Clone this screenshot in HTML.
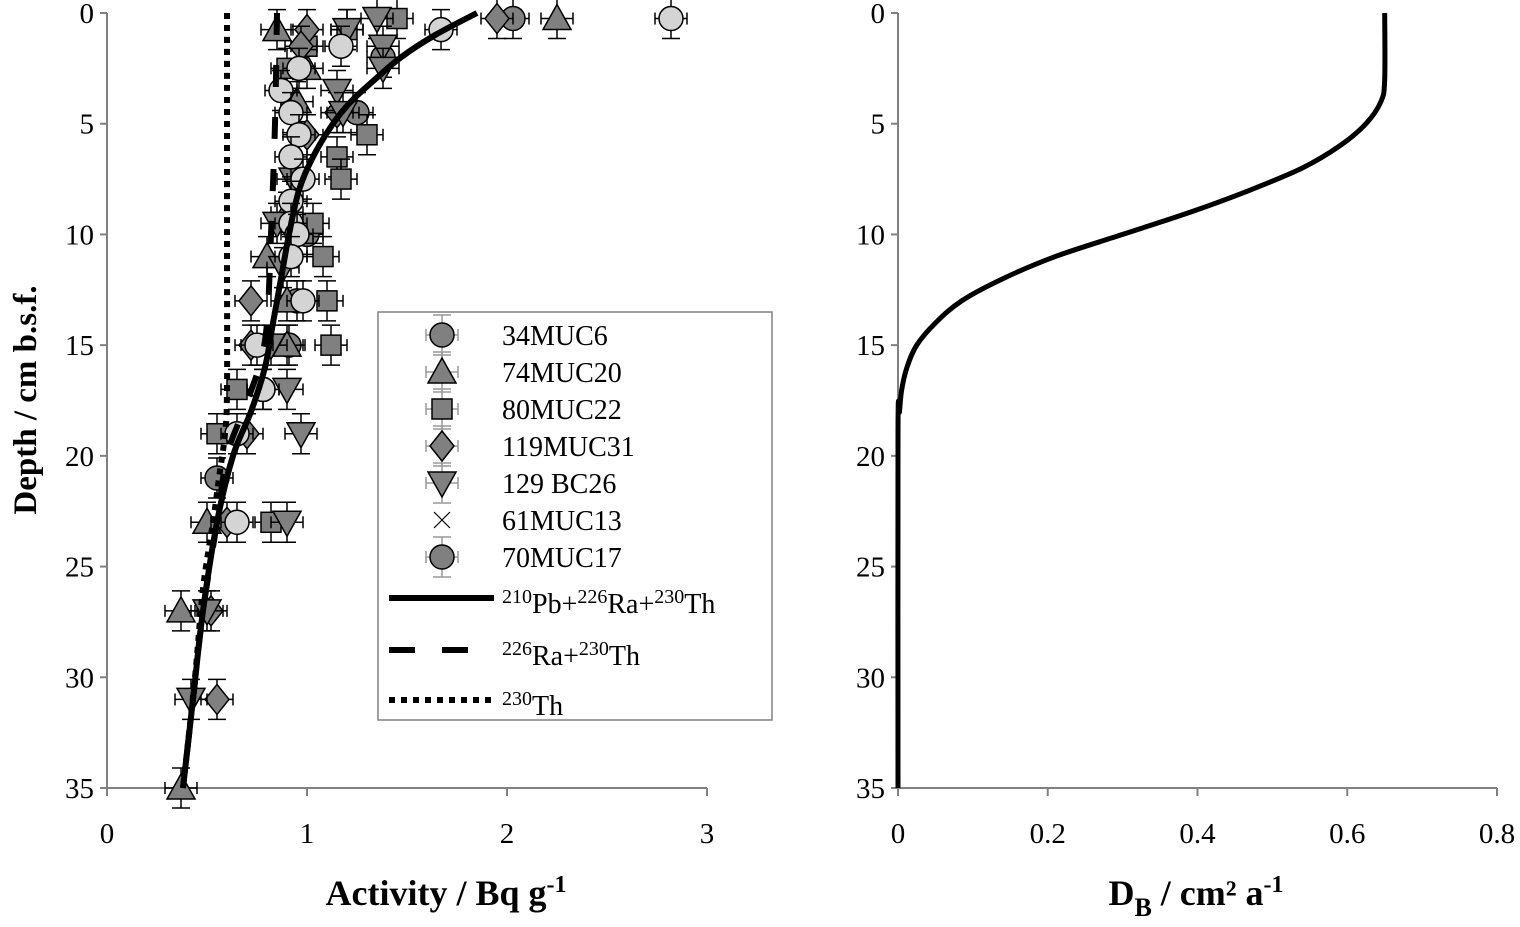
<!DOCTYPE html>
<html><head><meta charset="utf-8"><style>
body{margin:0;background:#fff;}
svg{display:block;font-family:"Liberation Serif",serif;}
</style></head><body>
<svg id="c" width="1520" height="927" viewBox="0 0 1520 927" xmlns="http://www.w3.org/2000/svg"></svg>
<script>
const NS="http://www.w3.org/2000/svg";
const svg=document.getElementById('c');
// ---- data ----
const depthTicks=[0,5,10,15,20,25,30,35];
const actTicks=[0,1,2,3];
const dbTicks=["0","0.2","0.4","0.6","0.8"];
const s34MUC6=[[2.03,0.25],[1.38,2],[1.25,4.5],[0.95,13],[0.91,15],[0.55,21],[0.78,17],[1.0,10]];
const s74MUC20=[[2.25,0.25],[0.85,0.75],[1.0,2.5],[0.95,4],[0.9,9],[0.8,11],[0.9,13],[0.5,23],[0.37,27],[0.37,35],[0.9,15]];
const s80MUC22=[[1.45,0.25],[1.2,0.75],[1.0,1.5],[0.9,2.5],[1.3,5.5],[1.15,6.5],[1.17,7.5],[1.03,9.5],[1.08,11],[1.1,13],[1.12,15],[0.65,17],[0.55,19],[0.82,23]];
const s119MUC31=[[1.95,0.25],[1.0,0.75],[0.97,1.5],[1.15,4.5],[1.0,5.5],[0.72,13],[0.72,15],[0.7,19],[0.6,23],[0.55,31],[0.52,27]];
const s129BC26=[[1.35,0.25],[1.2,0.75],[1.38,1.5],[1.38,2.5],[1.15,3.5],[1.18,4.5],[0.93,7.5],[0.85,9.5],[0.88,11.5],[0.82,15],[0.9,17],[0.97,19],[0.9,23],[0.5,27],[0.42,31]];
const s70MUC17=[[2.82,0.25],[1.67,0.75],[1.17,1.5],[0.96,2.5],[0.87,3.5],[0.92,4.5],[0.96,5.5],[0.92,6.5],[0.98,7.5],[0.92,8.5],[0.92,9.5],[0.95,10],[0.92,11],[0.98,13],[0.75,15],[0.78,17],[0.65,19],[0.65,23]];
const solidDepth=[0,1,2,3,4,5,6.5,8,10,12,14,16,18,20,23,27,31,35];
const solidAct=[1.85,1.64,1.47,1.34,1.22,1.13,1.03,0.96,0.91,0.87,0.83,0.79,0.72,0.63,0.55,0.48,0.43,0.38];
const dashDepth=[0,5,10,14,16,18,20,23,27,31,35];
const dashAct=[0.85,0.84,0.82,0.8,0.76,0.68,0.6,0.55,0.48,0.43,0.38];
const dotDepth=[0,10,17,19,21,23,26,30,35];
const dotAct=[0.6,0.6,0.6,0.59,0.56,0.53,0.48,0.44,0.38];
const dbDepth=[0,3,4,5,6,7,8,9,10,11,12,13,14,15,16,17,18,19,35];
const dbVal=[0.65,0.65,0.645,0.625,0.59,0.54,0.47,0.39,0.3,0.21,0.14,0.085,0.05,0.025,0.012,0.005,0.002,0,0];
// ---- scales ----
const yS=d=>13+d*(775/35);
const xA=v=>107+v*200;
const xD=v=>898+v*(599/0.8);
function el(t,a,p){const e=document.createElementNS(NS,t);for(const k in a)e.setAttribute(k,a[k]);(p||svg).appendChild(e);return e;}
function txt(x,y,s,a,p){const e=el('text',Object.assign({x:x,y:y},a),p);e.textContent=s;return e;}
function axes(x0,x1,ticks,xf,name){
  const g=el('g',{});
  el('line',{x1:x0,y1:13,x2:x0,y2:788,stroke:'#808080','stroke-width':2},g);
  el('line',{x1:x0,y1:788,x2:x1,y2:788,stroke:'#808080','stroke-width':2},g);
  depthTicks.forEach(d=>{el('line',{x1:x0-7,y1:yS(d),x2:x0,y2:yS(d),stroke:'#808080','stroke-width':2},g);
    txt(x0-13,yS(d)+10,d,{'text-anchor':'end','font-size':29},g);});
  ticks.forEach(t=>{const x=xf(+t);el('line',{x1:x,y1:788,x2:x,y2:796,stroke:'#808080','stroke-width':2},g);
    txt(x,843,t,{'text-anchor':'middle','font-size':29},g);});
}
axes(107,707,actTicks,xA,'left-axes');
axes(898,1497,dbTicks,xD,'right-axes');
// titles
const yt=txt(0,0,'Depth / cm b.s.f.',{'font-size':33,'font-weight':'bold','text-anchor':'middle',transform:'translate(36,400) rotate(-90)'});

const xt=el('text',{x:446,y:905,'font-size':36,'font-weight':'bold','text-anchor':'middle'});
xt.innerHTML='Activity / Bq g<tspan dy="-13" font-size="24">-1</tspan>';

const xt2=el('text',{x:1196,y:905,'font-size':36,'font-weight':'bold','text-anchor':'middle'});
xt2.innerHTML='D<tspan dy="11" font-size="26">B</tspan><tspan dy="-11"> / cm² a</tspan><tspan dy="-13" font-size="24">-1</tspan>';

// markers
function marker(kind,cx,cy,fill,p){
  const r=12,a={fill:fill,stroke:'#000','stroke-width':1.5};
  if(kind==='circle')return el('circle',Object.assign({cx:cx,cy:cy,r:r},a),p);
  if(kind==='square')return el('rect',Object.assign({x:cx-10,y:cy-10,width:20,height:20},a),p);
  if(kind==='tri')return el('polygon',Object.assign({points:`${cx},${cy-14} ${cx-14},${cy+11} ${cx+14},${cy+11}`},a),p);
  if(kind==='tri-down')return el('polygon',Object.assign({points:`${cx},${cy+14} ${cx-14},${cy-11} ${cx+14},${cy-11}`},a),p);
  if(kind==='diamond')return el('polygon',Object.assign({points:`${cx},${cy-15} ${cx+12},${cy} ${cx},${cy+15} ${cx-12},${cy}`},a),p);
}
function errbar(cx,cy,p,col){
  const c=col||'#000';
  el('line',{x1:cx-16,y1:cy,x2:cx+16,y2:cy,stroke:c,'stroke-width':1.5},p);
  el('line',{x1:cx-16,y1:cy-6,x2:cx-16,y2:cy+6,stroke:c,'stroke-width':1.5},p);
  el('line',{x1:cx+16,y1:cy-6,x2:cx+16,y2:cy+6,stroke:c,'stroke-width':1.5},p);
  el('line',{x1:cx,y1:cy-20,x2:cx,y2:cy+20,stroke:c,'stroke-width':1.5},p);
  el('line',{x1:cx-9,y1:cy-20,x2:cx+9,y2:cy-20,stroke:c,'stroke-width':1.5},p);
  el('line',{x1:cx-9,y1:cy+20,x2:cx+9,y2:cy+20,stroke:c,'stroke-width':1.5},p);
}
function series(data,kind,fill,name){
  const g=el('g',{});
  data.forEach(([v,d])=>{const cx=xA(v),cy=yS(d);errbar(cx,cy,g);const m=marker(kind,cx,cy,fill,g);
    });
}
series(s34MUC6,'circle','#808080','series-34muc6');
series(s74MUC20,'tri','#808080','series-74muc20');
series(s80MUC22,'square','#808080','series-80muc22');
series(s119MUC31,'diamond','#808080','series-119muc31');
series(s129BC26,'tri-down','#808080','series-129bc26');
series(s70MUC17,'circle','#d4d4d4','series-70muc17');
function smoothPath(P){
  let d='M'+P[0][0]+','+P[0][1];
  for(let i=0;i<P.length-1;i++){
    const p0=P[i-1]||P[i],p1=P[i],p2=P[i+1],p3=P[i+2]||p2;
    const c1=[p1[0]+(p2[0]-p0[0])/6,p1[1]+(p2[1]-p0[1])/6];
    const c2=[p2[0]-(p3[0]-p1[0])/6,p2[1]-(p3[1]-p1[1])/6];
    d+=`C${c1[0]},${c1[1]} ${c2[0]},${c2[1]} ${p2[0]},${p2[1]}`;
  }
  return d;
}
function line(ds,vs,xf,attrs,name){
  const P=ds.map((d,i)=>[xf(vs[i]),yS(d)]);
  const l=el('path',Object.assign({d:smoothPath(P),fill:'none',stroke:'#000'},attrs));
  
}
line(dotDepth,dotAct,xA,{'stroke-width':6,'stroke-dasharray':'6 6'},'line-230th');
line(dashDepth,dashAct,xA,{'stroke-width':6,'stroke-dasharray':'22 30'},'line-226ra-230th');
line(solidDepth,solidAct,xA,{'stroke-width':6,'stroke-linejoin':'round'},'line-210pb-226ra-230th');
line(dbDepth,dbVal,xD,{'stroke-width':5,'stroke-linejoin':'round'},'line-db');
// legend
const lg=el('g',{});
el('rect',{x:378,y:312,width:394,height:408,fill:'#fff',stroke:'#808080','stroke-width':1.5},lg);
const legNames=['34MUC6','74MUC20','80MUC22','119MUC31','129 BC26','61MUC13','70MUC17'];
const legKinds=['circle','tri','square','diamond','tri-down','x','circle'];
legNames.forEach((n,i)=>{const cy=335+i*37,cx=442;
  const g=el('g',{},lg);
  if(legKinds[i]==='x'){el('path',{d:`M${cx-8},${cy-8}L${cx+8},${cy+8}M${cx+8},${cy-8}L${cx-8},${cy+8}`,stroke:'#000','stroke-width':1.2},g);}
  else{errbar(cx,cy,g,'#999');marker(legKinds[i],cx,cy,'#808080',g);}
  txt(502,cy+10,n,{'font-size':28},g);});
const lines=[[598,{},'<tspan dy="-10" font-size="20">210</tspan><tspan dy="10">Pb+</tspan><tspan dy="-10" font-size="20">226</tspan><tspan dy="10">Ra+</tspan><tspan dy="-10" font-size="20">230</tspan><tspan dy="10">Th</tspan>'],
 [650,{'stroke-dasharray':'26 27'},'<tspan dy="-10" font-size="20">226</tspan><tspan dy="10">Ra+</tspan><tspan dy="-10" font-size="20">230</tspan><tspan dy="10">Th</tspan>'],
 [700,{'stroke-dasharray':'6 6'},'<tspan dy="-10" font-size="20">230</tspan><tspan dy="10">Th</tspan>']];
lines.forEach(([y,a,h])=>{const g=el('g',{},lg);
  el('line',Object.assign({x1:389,y1:y,x2:494,y2:y,stroke:'#000','stroke-width':6},a),g);
  const t=el('text',{x:502,y:y+15,'font-size':28},g);t.innerHTML=h;});
</script>
</body></html>
